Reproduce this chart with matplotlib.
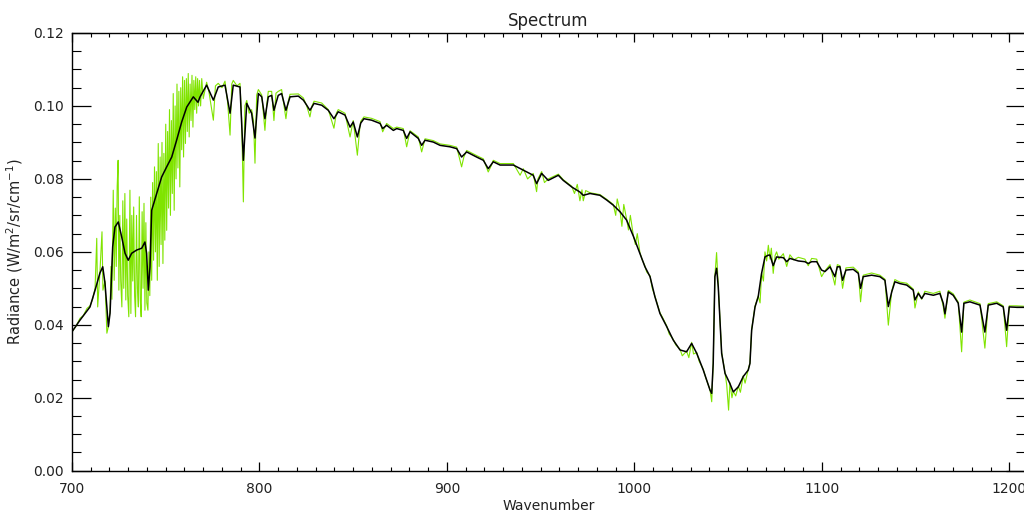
import matplotlib
matplotlib.use("Agg")
import matplotlib.pyplot as plt
from matplotlib.ticker import MultipleLocator, FormatStrFormatter

# Black (smoothed) spectrum: wavenumber, radiance
black_w = [700.0, 704.3, 709.6, 712.3, 714.9, 716.4, 717.6, 719.4, 720.3, 721.7,
           722.9, 724.7, 726.5, 728.3, 730.0, 731.8, 734.5, 737.2, 738.9, 739.8,
           740.7, 741.6, 742.5, 745.2, 747.8, 750.5, 753.2, 755.8, 758.5, 761.2,
           764.7, 767.2, 768.3, 771.8, 775.4, 778.0, 781.6, 784.3, 786.0, 789.6,
           791.4, 793.2, 795.8, 797.6, 799.4, 801.2, 802.9, 804.7, 806.5, 807.7,
           810.0, 811.8, 814.1, 816.3, 820.7, 823.4, 825.2, 826.9, 829.1, 833.2,
           836.7, 839.7, 842.0, 845.6, 848.3, 850.0, 852.2, 854.0, 855.7, 859.8,
           864.3, 865.7, 867.8, 871.4, 873.2, 876.7, 878.5, 880.3, 884.7, 886.5,
           888.3, 892.7, 896.3, 901.6, 905.2, 907.8, 910.5, 915.8, 919.4, 922.0,
           924.7, 928.3, 935.4, 940.7, 946.0, 947.8, 950.5, 954.0, 959.4, 962.0,
           966.5, 970.9, 972.7, 976.3, 981.6, 985.2, 988.7, 992.3, 995.8, 999.4,
           1002.9, 1005.6, 1008.3, 1010.9, 1013.6, 1017.2, 1020.7, 1024.3, 1027.8, 1030.5,
           1033.2, 1036.7, 1040.3, 1041.2, 1042.0, 1042.9, 1043.8, 1044.7, 1046.5, 1048.3,
           1050.9, 1052.7, 1055.4, 1058.0, 1060.7, 1061.6, 1062.5, 1064.3, 1066.0, 1067.8,
           1069.6, 1071.4, 1072.3, 1074.0, 1075.8, 1079.4, 1081.2, 1082.9, 1087.4, 1090.9,
           1092.7, 1094.5, 1097.2, 1099.8, 1101.6, 1104.3, 1106.9, 1108.2, 1109.6, 1111.0,
           1112.8, 1116.7, 1119.4, 1120.6, 1122.0, 1126.5, 1130.9, 1133.6, 1135.4, 1137.2,
           1138.9, 1141.6, 1145.2, 1148.7, 1149.6, 1151.4, 1153.2, 1154.9, 1159.4, 1162.9,
           1164.7, 1165.6, 1167.4, 1170.0, 1172.7, 1174.5, 1175.7, 1178.9, 1184.3, 1186.9,
           1188.7, 1193.2, 1196.7, 1198.5, 1199.9, 1203.8, 1207.4]
black_r = [0.0381, 0.0413, 0.0449, 0.0495, 0.0542, 0.0559, 0.0514, 0.0395, 0.0432, 0.0614,
           0.0668, 0.0682, 0.0641, 0.0596, 0.0577, 0.0596, 0.0605, 0.0610, 0.0627, 0.0596,
           0.0495, 0.0559, 0.0714, 0.0760, 0.0805, 0.0833, 0.0860, 0.0906, 0.0956, 0.0997,
           0.1025, 0.1010, 0.1025, 0.1057, 0.1016, 0.1052, 0.1057, 0.0980, 0.1057, 0.1052,
           0.0851, 0.1007, 0.0980, 0.0912, 0.1034, 0.1025, 0.0965, 0.1025, 0.1029, 0.0988,
           0.1029, 0.1034, 0.0988, 0.1025, 0.1027, 0.1016, 0.1002, 0.0988, 0.1007, 0.1002,
           0.0988, 0.0965, 0.0984, 0.0975, 0.0942, 0.0956, 0.0915, 0.0953, 0.0965, 0.0961,
           0.0952, 0.0938, 0.0947, 0.0933, 0.0938, 0.0933, 0.0911, 0.0929, 0.0911, 0.0892,
           0.0906, 0.0901, 0.0892, 0.0888, 0.0883, 0.0860, 0.0874, 0.0860, 0.0851, 0.0828,
           0.0847, 0.0838, 0.0838, 0.0824, 0.0810, 0.0787, 0.0815, 0.0796, 0.0810, 0.0796,
           0.0778, 0.0764, 0.0755, 0.0760, 0.0755, 0.0742, 0.0728, 0.0710, 0.0687, 0.0643,
           0.0596, 0.0559, 0.0532, 0.0477, 0.0431, 0.0395, 0.0358, 0.0331, 0.0326, 0.0349,
           0.0322, 0.0276, 0.0221, 0.0212, 0.0294, 0.0532, 0.0555, 0.0504, 0.0322, 0.0267,
           0.0239, 0.0216, 0.0230, 0.0258, 0.0276, 0.0294, 0.0385, 0.0449, 0.0477, 0.0541,
           0.0586, 0.0591, 0.0591, 0.0562, 0.0586, 0.0584, 0.0573, 0.0582, 0.0575, 0.0573,
           0.0568, 0.0573, 0.0573, 0.0550, 0.0546, 0.0559, 0.0532, 0.0559, 0.0559, 0.0522,
           0.0550, 0.0552, 0.0541, 0.0500, 0.0532, 0.0536, 0.0532, 0.0522, 0.0450, 0.0490,
           0.0518, 0.0513, 0.0509, 0.0495, 0.0468, 0.0486, 0.0472, 0.0486, 0.0481, 0.0486,
           0.0459, 0.0430, 0.0490, 0.0481, 0.0459, 0.0380, 0.0459, 0.0463, 0.0454, 0.0380,
           0.0454, 0.0459, 0.0449, 0.0385, 0.0449, 0.0448, 0.0448]

# Green (full resolution) spectrum
green_w = [700.0, 702.0, 704.3, 706.0, 708.0, 709.6, 711.0, 712.3, 713.2, 713.7,
           714.9, 716.0, 716.5, 717.6, 718.6, 719.4,
           720.3, 720.8, 721.3, 722.0, 722.5, 723.1, 723.6, 724.1, 724.6, 725.0,
           725.5, 726.0, 726.6, 727.1, 727.6, 728.2, 728.7, 729.2, 729.7, 730.3,
           730.9, 731.4, 731.9, 732.4, 732.9, 733.4, 733.9, 734.4, 734.9, 735.4,
           735.9, 736.4, 736.9, 737.4, 737.9, 738.4, 738.9, 739.4, 739.9, 740.5,
           741.0, 741.5, 742.0, 742.5, 743.0, 743.5, 744.0, 744.5, 745.0, 745.5,
           746.0, 746.5, 747.0, 747.5, 748.0, 748.5, 749.0, 749.5, 750.0, 750.5,
           751.0, 751.5, 752.0, 752.5, 753.0, 753.5, 754.0, 754.5, 755.0, 755.5,
           756.0, 756.5, 757.0, 757.5, 758.0, 758.5, 759.0, 759.5, 760.0, 760.5,
           761.0, 761.5, 762.0, 762.5, 763.0, 763.5, 764.0, 764.5, 765.0, 765.5,
           766.0, 766.5, 767.0, 767.5, 768.0, 768.6, 769.2, 770.0,
           771.8, 773.0, 775.4,
           776.5, 778.0, 780.0, 781.6, 783.0, 784.3, 785.2, 786.0, 788.0, 789.6,
           790.5, 791.4, 792.2, 793.2, 794.5, 795.8, 796.8, 797.6, 798.5, 799.4,
           801.2, 802.9, 803.8, 804.7, 806.5, 807.7, 808.8, 810.0, 811.8, 814.1,
           815.2, 816.3, 820.7, 823.4, 825.2, 826.9, 828.0, 829.1, 833.2, 836.7,
           839.7, 841.0, 842.0, 845.6, 848.3, 850.0, 852.2, 853.5, 854.0, 855.7,
           859.8, 864.3, 865.7, 867.8, 871.4, 873.2, 876.7, 878.5, 880.3, 884.7,
           886.5, 888.3, 892.7, 896.3, 901.6, 905.2, 907.8, 909.0, 910.5, 915.8,
           919.4, 922.0, 923.5, 924.7, 928.3, 935.4, 939.0, 940.7, 943.0, 946.0,
           947.8, 948.5, 950.5, 952.0, 954.0, 959.4, 962.0, 966.5, 968.0, 969.5,
           970.9, 972.0, 972.7, 974.0, 976.3, 981.6, 985.2, 988.7, 990.0, 990.8,
           992.3, 993.3, 994.3, 995.8, 996.8, 997.8, 999.4, 1000.5, 1001.5, 1002.9,
           1004.0, 1005.6, 1006.5, 1008.3, 1009.5, 1010.9, 1012.0, 1013.6, 1015.0, 1017.2,
           1018.5, 1020.7, 1022.0, 1024.3, 1025.5, 1027.8, 1029.0, 1030.5, 1031.5, 1033.2,
           1034.5, 1036.7, 1038.0, 1040.3, 1041.2, 1042.0, 1042.9, 1043.8, 1044.7, 1045.5,
           1046.5, 1048.3, 1049.2, 1050.2, 1050.9, 1052.0, 1052.7, 1054.0, 1055.4, 1056.5,
           1058.0, 1059.0, 1060.7, 1061.6, 1062.5, 1064.3, 1066.0, 1067.0, 1067.8, 1068.8,
           1069.6, 1070.5, 1071.4, 1072.3, 1073.0, 1074.0, 1075.0, 1075.8, 1077.0, 1079.4,
           1081.2, 1082.9, 1085.0, 1087.4, 1090.9, 1092.7, 1094.5, 1097.2, 1099.8, 1101.6,
           1104.3, 1106.9, 1108.2, 1109.6, 1111.0, 1112.8, 1116.7, 1119.4, 1120.6, 1122.0,
           1126.5, 1130.9, 1133.6, 1135.4, 1137.2, 1138.9, 1141.6, 1145.2, 1148.7, 1149.6,
           1151.4, 1153.2, 1154.9, 1159.4, 1162.9, 1164.7, 1165.6, 1167.4, 1170.0, 1172.7,
           1174.5, 1175.7, 1178.9, 1184.3, 1186.9, 1188.7, 1193.2, 1196.7, 1198.5, 1199.9,
           1203.8, 1207.4]
green_r = [0.0381, 0.0395, 0.0418, 0.0425, 0.0445, 0.0452, 0.0470, 0.0500, 0.0637, 0.0449,
           0.0545, 0.0655, 0.0495, 0.0520, 0.0377, 0.0395,
           0.0440, 0.0560, 0.0470, 0.0769, 0.0522, 0.0720, 0.0560, 0.0780, 0.0851, 0.0495,
           0.0700, 0.0520, 0.0449, 0.0740, 0.0500, 0.0760, 0.0468, 0.0690, 0.0480, 0.0422,
           0.0769, 0.0431, 0.0700, 0.0520, 0.0723, 0.0480, 0.0422, 0.0700, 0.0500, 0.0449,
           0.0751, 0.0470, 0.0422, 0.0710, 0.0500, 0.0733, 0.0440, 0.0680, 0.0460, 0.0440,
           0.0600, 0.0480, 0.0750, 0.0522, 0.0790, 0.0577, 0.0833, 0.0600, 0.0820, 0.0522,
           0.0897, 0.0560, 0.0860, 0.0620, 0.0900, 0.0568, 0.0870, 0.0632, 0.0950, 0.0659,
           0.0930, 0.0720, 0.0990, 0.0700, 0.0960, 0.0760, 0.1034, 0.0714, 0.1000, 0.0800,
           0.1060, 0.0830, 0.1040, 0.0778, 0.1050, 0.0880, 0.1080, 0.0860, 0.1070, 0.0897,
           0.1075, 0.0930, 0.1089, 0.0915, 0.1060, 0.0960, 0.1084, 0.0942, 0.1070, 0.0990,
           0.1080, 0.0980, 0.1075, 0.1000, 0.1070, 0.1000, 0.1075, 0.1020,
           0.1065, 0.1040, 0.0961,
           0.1055, 0.1062, 0.1050, 0.1068, 0.1010, 0.0920, 0.1060, 0.1070, 0.1055, 0.1062,
           0.0960, 0.0737, 0.1000, 0.1015, 0.0980, 0.0990, 0.0960, 0.0843, 0.1030, 0.1045,
           0.1030, 0.0933, 0.1000, 0.1040, 0.1040, 0.0960, 0.1035, 0.1040, 0.1045, 0.0965,
           0.1010, 0.1032, 0.1033, 0.1022, 0.1000, 0.0970, 0.1000, 0.1013, 0.1008, 0.0990,
           0.0939, 0.0980, 0.0990, 0.0980, 0.0915, 0.0960, 0.0865, 0.0940, 0.0958, 0.0970,
           0.0966, 0.0957, 0.0929, 0.0952, 0.0938, 0.0942, 0.0938, 0.0888, 0.0932, 0.0915,
           0.0874, 0.0910, 0.0905, 0.0896, 0.0892, 0.0887, 0.0833, 0.0860, 0.0878, 0.0864,
           0.0855, 0.0819, 0.0835, 0.0851, 0.0842, 0.0842, 0.0810, 0.0828, 0.0800, 0.0815,
           0.0765, 0.0800, 0.0820, 0.0790, 0.0800, 0.0813, 0.0798, 0.0780, 0.0760, 0.0785,
           0.0740, 0.0770, 0.0740, 0.0768, 0.0762, 0.0757, 0.0744, 0.0730, 0.0700, 0.0745,
           0.0712, 0.0670, 0.0730, 0.0690, 0.0660, 0.0700, 0.0645, 0.0620, 0.0650, 0.0598,
           0.0580, 0.0561, 0.0545, 0.0534, 0.0500, 0.0479, 0.0460, 0.0433, 0.0420, 0.0397,
           0.0375, 0.0360, 0.0345, 0.0333, 0.0315, 0.0328, 0.0310, 0.0352, 0.0320, 0.0324,
           0.0300, 0.0278, 0.0255, 0.0222, 0.0189, 0.0296, 0.0534, 0.0598, 0.0506, 0.0420,
           0.0324, 0.0269, 0.0235, 0.0166, 0.0241, 0.0200, 0.0218, 0.0205, 0.0232, 0.0215,
           0.0260, 0.0240, 0.0278, 0.0296, 0.0387, 0.0451, 0.0479, 0.0460, 0.0543, 0.0520,
           0.0600, 0.0575, 0.0618, 0.0580, 0.0610, 0.0541, 0.0590, 0.0600, 0.0580, 0.0595,
           0.0560, 0.0592, 0.0578, 0.0585, 0.0580, 0.0562, 0.0582, 0.0580, 0.0532, 0.0548,
           0.0565, 0.0509, 0.0565, 0.0562, 0.0500, 0.0556, 0.0558, 0.0545, 0.0463, 0.0536,
           0.0542, 0.0536, 0.0525, 0.0399, 0.0492, 0.0524, 0.0517, 0.0514, 0.0498, 0.0446,
           0.0490, 0.0470, 0.0492, 0.0486, 0.0492, 0.0450, 0.0418, 0.0494, 0.0485, 0.0462,
           0.0326, 0.0462, 0.0468, 0.0458, 0.0336, 0.0458, 0.0463, 0.0452, 0.0340, 0.0452,
           0.0452, 0.0451]

title = "Spectrum"
xlabel = "Wavenumber"
ylabel = r"Radiance (W/m$^2$/sr/cm$^{-1}$)"

plt.rcParams['font.family'] = ['DejaVu Sans']
plt.rcParams['mathtext.fontset'] = 'dejavusans'

fig = plt.figure(figsize=(10.24, 5.15), dpi=100)
ax = fig.add_axes([72/1024, 44.3/515, (1025-72)/1024, (470.7-33)/515])

ax.plot(green_w, green_r, color='#80e400', lw=0.8, zorder=2)
ax.plot(black_w, black_r, color='black', lw=1.1, zorder=3)

ax.set_xlim(700, 1208.3)
ax.set_ylim(0.0, 0.12)

ax.xaxis.set_major_locator(MultipleLocator(100))
ax.xaxis.set_minor_locator(MultipleLocator(10))
ax.yaxis.set_major_locator(MultipleLocator(0.02))
ax.yaxis.set_minor_locator(MultipleLocator(0.005))
ax.yaxis.set_major_formatter(FormatStrFormatter('%.2f'))

ax.tick_params(axis='x', which='major', direction='in', length=6.5, width=0.9,
               top=True, bottom=True, labelsize=10, pad=8, labelcolor='#222222')
ax.tick_params(axis='x', which='minor', direction='in', length=3.2, width=0.8,
               top=True, bottom=True)
ax.tick_params(axis='y', which='major', direction='in', length=13.5, width=0.9,
               left=True, right=True, labelsize=10, pad=6, labelcolor='#222222')
ax.tick_params(axis='y', which='minor', direction='in', length=6.8, width=0.8,
               left=True, right=True)

for s in ax.spines.values():
    s.set_linewidth(1.0)

ax.set_title(title, fontsize=12, color='#222222', pad=5)
ax.set_xlabel(xlabel, fontsize=10, color='#222222', labelpad=2)
ax.set_ylabel(ylabel, fontsize=10.5, color='#222222', labelpad=6)

fig.savefig("out.png", dpi=100)
